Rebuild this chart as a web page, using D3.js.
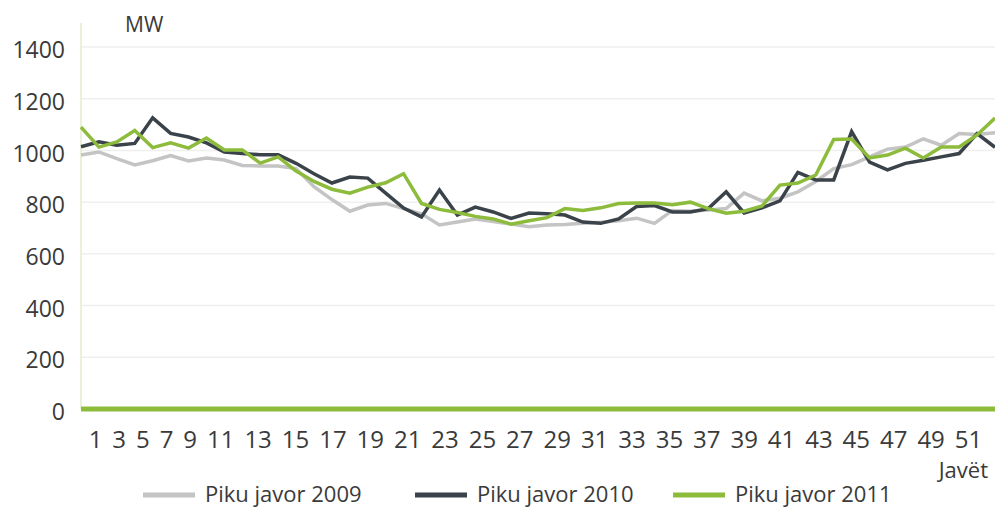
<!DOCTYPE html>
<html>
<head>
<meta charset="utf-8">
<script src="https://cdn.jsdelivr.net/npm/d3@7"></script>
<style>
  body { margin: 0; background: #fff; }
  svg { display: block; }
  text { font-family: "Open Sans", "Liberation Sans", sans-serif; fill: #3a3a3a; }
</style>
</head>
<body>
<svg id="chart" width="995" height="508"></svg>
<script>
'use strict';

// weekly peak load, MW
var weeks = d3.range(1, 53);
var weekLabels = weeks.filter(function(w) { return w % 2 === 1; });
var yTicks = [0, 200, 400, 600, 800, 1000, 1200, 1400];

var peak2009 = [982, 994, 968, 944, 960, 980, 959, 971, 963, 942,
	940, 940, 930, 860, 810, 765, 789, 795, 775, 755,
	712, 723, 735, 725, 715, 705, 712, 714, 718, 722,
	728, 738, 718, 768, 765, 770, 775, 835, 805, 815,
	840, 880, 930, 945, 975, 1005, 1013, 1045, 1020, 1065, 1062, 1068];
var peak2010 = [1014, 1033, 1020, 1027, 1126, 1066, 1052, 1029, 994, 988,
	983, 983, 950, 910, 874, 897, 893, 835, 777, 743,
	847, 750, 781, 762, 737, 758, 755, 750, 723, 718,
	735, 783, 787, 762, 762, 775, 840, 758, 778, 805,
	915, 886, 886, 1073, 955, 925, 950, 962, 975, 988, 1065, 1012];
var peak2011 = [1090, 1013, 1033, 1077, 1011, 1029, 1009, 1048, 1002, 1002,
	951, 975, 920, 880, 850, 835, 858, 875, 910, 795,
	772, 760, 745, 735, 715, 728, 740, 775, 768, 778,
	795, 797, 797, 790, 800, 775, 757, 765, 785, 866,
	874, 905, 1042, 1044, 971, 982, 1009, 971, 1013, 1013, 1060, 1125];

var series = [
	{ name: 'Piku javor 2009', values: peak2009, color: '#c4c4c4' },
	{ name: 'Piku javor 2010', values: peak2010, color: '#3b434a' },
	{ name: 'Piku javor 2011', values: peak2011, color: '#8dbb3c' }
];

var svg = d3.select('#chart');
var plotLeft = 81, plotRight = 995, plotTop = 47, plotBottom = 409;

var x = d3.scalePoint().domain(weeks).range([plotLeft, plotRight]);
var y = d3.scaleLinear().domain([0, 1400]).range([plotBottom, plotTop]);

// grid
svg.append('g')
	.selectAll('line')
	.data(yTicks.slice(1))
	.enter()
	.append('line')
	.attr('x1', plotLeft)
	.attr('x2', plotRight)
	.attr('y1', function(d) { return y(d); })
	.attr('y2', function(d) { return y(d); })
	.attr('stroke', '#efefef')
	.attr('stroke-width', 1.5);

svg.append('line')
	.attr('x1', plotLeft).attr('x2', plotLeft)
	.attr('y1', 23).attr('y2', plotBottom)
	.attr('stroke', '#e3eccb')
	.attr('stroke-width', 1.5);

// y axis
var yAxis = svg.append('g')
	.attr('transform', 'translate(' + plotLeft + ',0)')
	.call(d3.axisLeft(y).tickValues(yTicks).tickFormat(d3.format('d')).tickSize(0).tickPadding(16));
yAxis.select('.domain').remove();
yAxis.selectAll('text')
	.attr('dy', '0.46em')
	.style('font-size', '23px')
	.style('font-family', '"Open Sans", sans-serif')
	.style('fill', '#3a3a3a');

// x labels sit side by side with an even gap, as in the printed chart
var tmp = svg.append('g').style('font-size', '24px');
var widths = weekLabels.map(function(w) {
	var t = tmp.append('text').text(w);
	var len = t.node().getComputedTextLength();
	t.remove();
	return len;
});
tmp.remove();
var firstCenter = 95, lastCenter = 968;
var halfSum = 0;
for (var i = 1; i < widths.length; i++) halfSum += widths[i - 1] / 2 + widths[i] / 2;
var gap = (lastCenter - firstCenter - halfSum) / (widths.length - 1);
var centers = [firstCenter];
for (var j = 1; j < widths.length; j++) {
	centers.push(centers[j - 1] + widths[j - 1] / 2 + gap + widths[j] / 2);
}
var xLabel = d3.scaleOrdinal().domain(weekLabels).range(centers);

var xAxis = svg.append('g')
	.attr('transform', 'translate(0,' + plotBottom + ')')
	.call(d3.axisBottom(xLabel).tickSize(0).tickPadding(22));
xAxis.select('.domain').remove();
xAxis.selectAll('text')
	.style('font-size', '24px')
	.style('font-family', '"Open Sans", sans-serif')
	.style('fill', '#3a3a3a');

// lines
var line = d3.line()
	.x(function(d, i) { return x(weeks[i]); })
	.y(function(d) { return y(d); });

svg.append('g')
	.selectAll('path')
	.data(series)
	.enter()
	.append('path')
	.attr('d', function(s) { return line(s.values); })
	.attr('fill', 'none')
	.attr('stroke', function(s) { return s.color; })
	.attr('stroke-width', 3.5)
	.attr('stroke-linejoin', 'miter');

// zero line
svg.append('line')
	.attr('x1', plotLeft).attr('x2', plotRight)
	.attr('y1', y(0)).attr('y2', y(0))
	.attr('stroke', '#8dbb3c')
	.attr('stroke-width', 5);

svg.append('text')
	.attr('x', 125).attr('y', 32)
	.style('font-size', '21px')
	.text('MW');

svg.append('text')
	.attr('x', 988).attr('y', 478)
	.attr('text-anchor', 'end')
	.style('font-size', '22px')
	.text('Javët');

// legend
var legendX = [143, 415, 673];
var legend = svg.append('g')
	.selectAll('g')
	.data(series)
	.enter()
	.append('g')
	.attr('transform', function(s, i) { return 'translate(' + legendX[i] + ',495)'; });
legend.append('line')
	.attr('x1', 0).attr('x2', 52)
	.attr('stroke', function(s) { return s.color; })
	.attr('stroke-width', 5);
legend.append('text')
	.attr('x', 62).attr('y', 7)
	.style('font-size', '22px')
	.text(function(s) { return s.name; });
</script>
</body>
</html>
